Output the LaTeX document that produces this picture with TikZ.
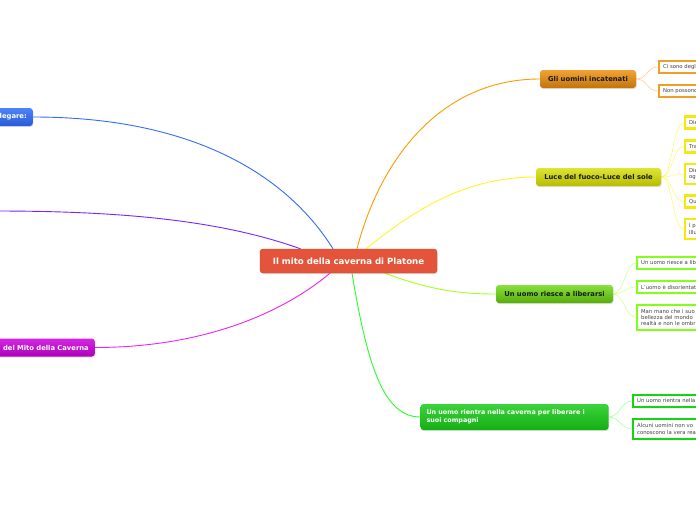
\documentclass[tikz,border=0pt]{standalone}
\usepackage{fontspec}
\setmainfont{DejaVu Sans}
\usetikzlibrary{shadows,backgrounds,calc}
\definecolor{cred}{HTML}{E4543A}
\definecolor{cblue}{HTML}{2F6CFA}
\definecolor{cpurp}{HTML}{7A22FF}
\definecolor{cmag}{HTML}{CC00DD}
\definecolor{cmagline}{HTML}{EE22EE}
\definecolor{corange}{HTML}{F0920E}
\definecolor{cyellow}{HTML}{D6DE00}
\definecolor{clgreen}{HTML}{6CD90C}
\definecolor{cgreen}{HTML}{18CC18}
\begin{document}
\begin{tikzpicture}[x=1pt,y=-1pt,
  mainbox/.style={rounded corners=3pt, font=\bfseries\fontsize{6.8}{8}\selectfont,
    minimum height=18pt, inner xsep=6pt, drop shadow={opacity=0.25,shadow xshift=0.6pt,shadow yshift=-1.2pt}},
  leaf/.style={draw, line width=2.3pt, fill=white, font=\fontsize{5.3}{6.4}\selectfont,
    text=black!75, anchor=west, align=left, text width=90pt, inner xsep=4pt, minimum height=12pt},
  conn/.style={line width=0.9pt},
  sub/.style={line width=0.5pt}]
\useasboundingbox (0,0) rectangle (696,520);
% central
\node[mainbox, font=\bfseries\fontsize{8.6}{10}\selectfont, text=white, fill=cred, draw=cred!85!black, line width=0.4pt,
  minimum width=177pt, minimum height=24pt] (c) at (348.5,261) {Il mito della caverna di Platone};
% left
\node[mainbox, text=white, top color=cblue!85!white, bottom color=cblue!85!black, anchor=east,
  text width=80pt, align=right] (bl) at (33,117) {degare:};
\node[mainbox, text=white, top color=cmag!85!white, bottom color=cmag!85!black, anchor=east,
  text width=110pt, align=right] (mg) at (95,347.5) {del Mito della Caverna};
\coordinate (pu) at (-5,211);
% right branches
\node[mainbox, text=black!90, top color=corange!85!white, bottom color=corange!80!black,
  minimum width=96pt] (or) at (588,79) {Gli uomini incatenati};
\node[mainbox, text=black!90, top color=cyellow!80!white, bottom color=cyellow!85!black,
  minimum width=125pt] (ye) at (598.5,177) {Luce del fuoco-Luce del sole};
\node[mainbox, text=black!90, top color=clgreen!80!white, bottom color=clgreen!80!black,
  minimum width=117pt] (lg) at (554.5,294) {Un uomo riesce a liberarsi};
\node[mainbox, font=\bfseries\fontsize{6.4}{8}\selectfont, text=white, top color=cgreen!85!white, bottom color=cgreen!85!black,
  text width=176pt, align=left, minimum height=26pt] (gr) at (514.5,417)
  {Un uomo rientra nella caverna per liberare i\\suoi compagni};
% leaves orange
\node[leaf, draw=corange!90!white] (o1) at (658,67) {Ci sono degl};
\node[leaf, draw=corange!90!white] (o2) at (658,91) {Non possono};
% leaves yellow
\node[leaf, draw=yellow!95!black] (y1) at (684,122.5) {Die};
\node[leaf, draw=yellow!95!black] (y2) at (684,146.5) {Tra};
\node[leaf, draw=yellow!95!black, minimum height=20pt] (y3) at (684,174) {Die\\og};
\node[leaf, draw=yellow!95!black] (y4) at (684,201.5) {Qu};
\node[leaf, draw=yellow!95!black, minimum height=20pt] (y5) at (684,229) {I p\\Illu};
% leaves light green
\node[leaf, draw=green!55!yellow!90!white] (g1) at (636,263) {Un uomo riesce a lib};
\node[leaf, draw=green!55!yellow!90!white] (g2) at (636,287) {L'uomo è disorientat};
\node[leaf, draw=green!55!yellow!90!white, minimum height=25pt] (g3) at (636,317.5)
  {Man mano che i suo\\bellezza del mondo\\realtà e non le ombr};
% leaves green
\node[leaf, draw=cgreen!80!green] (G1) at (632,401) {Un uomo rientra nella};
\node[leaf, draw=cgreen!80!green, minimum height=20pt] (G2) at (632,429)
  {Alcuni uomini non vo\\conoscono la vera rea};
\begin{scope}[on background layer]
% main connectors
\draw[conn, draw=orange!80!yellow] ([xshift=8.5pt]c.north) .. controls (380,160) and (440,79) .. (or.west);
\draw[conn, draw=yellow!85!white] ([xshift=17.5pt]c.north) .. controls (420,205) and (470,177) .. (ye.west);
\draw[conn, draw=green!40!yellow!90!white] ([xshift=36.5pt]c.south) .. controls (430,290) and (460,294) .. (lg.west);
\draw[conn, draw=green!85!white] ([xshift=3.5pt]c.south) .. controls (368,370) and (385,417) .. (gr.west);
\draw[conn, draw=cblue] ([xshift=-15.5pt]c.north) .. controls (290,180) and (200,117) .. (bl.east);
\draw[conn, draw=cpurp] ([xshift=-48pt]c.north) .. controls (220,220) and (120,211) .. (pu);
\draw[conn, draw=cmagline] ([xshift=-18.5pt]c.south) .. controls (280,315) and (200,347.5) .. (mg.east);
% sub connectors
\foreach \l in {o1,o2}
  \draw[sub, draw=orange!45!white] (or.east) .. controls ($(or.east)+(11,0)$) and ($(\l.west)+(-11,0)$) .. (\l.west);
\foreach \l in {y1,y2,y3,y4,y5}
  \draw[sub, draw=yellow!60!white] (ye.east) .. controls ($(ye.east)+(12,0)$) and ($(\l.west)+(-12,0)$) .. (\l.west);
\foreach \l in {g1,g2,g3}
  \draw[sub, draw=green!45!yellow!45!white] (lg.east) .. controls ($(lg.east)+(11,0)$) and ($(\l.west)+(-11,0)$) .. (\l.west);
\foreach \l in {G1,G2}
  \draw[sub, draw=green!40!white] (gr.east) .. controls ($(gr.east)+(11,0)$) and ($(\l.west)+(-11,0)$) .. (\l.west);
\end{scope}
\end{tikzpicture}
\end{document}
